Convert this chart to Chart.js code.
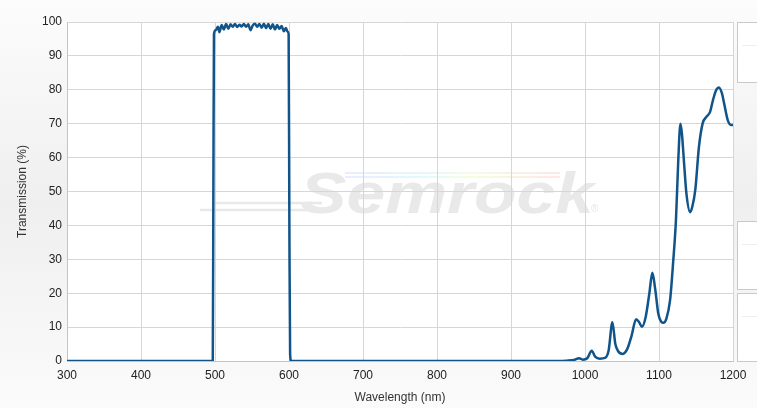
<!DOCTYPE html>
<html>
<head>
<meta charset="utf-8">
<script src="https://cdn.jsdelivr.net/npm/chart.js@4.4.1/dist/chart.umd.min.js"></script>
<style>
  html, body { margin: 0; padding: 0; }
  body {
    width: 757px; height: 408px; overflow: hidden; position: relative;
    background: linear-gradient(to bottom, #fcfcfc 0%, #efefef 50%, #fbfbfb 100%);
    font-family: "Liberation Sans", Arial, sans-serif;
  }
  #wrap { position: absolute; left: 0; top: 0; width: 757px; height: 408px; }
  .side {
    position: absolute; left: 737px; width: 30px;
    background: #fff; border: 1px solid #c9c9c9; border-right: none;
  }
  .side::after {
    content: ""; position: absolute; left: 4px; right: 0; top: 22px;
    border-top: 1px solid #eeeeee;
  }
</style>
</head>
<body>
<div id="wrap"><canvas id="myChart" width="757" height="408"></canvas></div>
<div class="side" style="top:22px;height:59px;"></div>
<div class="side" style="top:221px;height:67px;"></div>
<div class="side" style="top:293px;height:67px;"></div>
<script>
// wavelength (nm) and transmission (%)
const wavelengths = [
    300, 400, 497, 497.8, 498.6,
    501, 504, 506, 509, 512, 515, 518, 521, 524, 527, 530, 533, 536, 539, 542,
    545, 548, 551, 554, 557, 560, 563, 566, 569, 572, 575, 578, 581, 584, 587,
    590, 593, 596, 598, 599.5, 600.5, 601.5, 603,
    700, 800, 900, 965, 975, 985, 992, 997, 1003, 1009, 1014, 1020, 1027,
    1032, 1037, 1041, 1045, 1051, 1057, 1063, 1069, 1073, 1077, 1082, 1087,
    1091, 1095, 1099, 1103, 1106, 1110, 1115, 1119, 1123, 1126, 1129, 1131,
    1134, 1137, 1142, 1145, 1149, 1154, 1159, 1164, 1169, 1173, 1177, 1181,
    1185, 1188, 1193, 1198, 1200
];
const transmission = [
    0, 0, 0, 50, 96.5,
    97.6, 98.6, 97.0, 99.1, 97.8, 99.4, 98.0, 99.3, 98.6, 99.4, 98.5, 99.2, 98.7, 99.4, 98.6,
    99.3, 97.6, 99.0, 99.5, 98.6, 99.4, 98.3, 99.5, 98.2, 99.4, 98.0, 99.3, 97.8, 99.1, 98.0,
    98.8, 97.3, 98.2, 97.1, 96.5, 40, 2, 0,
    0, 0, 0, 0, 0.1, 0.3, 0.8, 0.4, 0.8, 3.0, 1.2, 0.7, 0.9,
    3.2, 11.4, 5.0, 2.8, 2.1, 3.5, 7.5, 12.3, 11.5, 10.1, 13.0, 20.0,
    26.0, 21.0, 14.0, 11.6, 11.3, 12.5, 18.0, 28.8, 42.0, 59.0, 70.0, 67.0,
    58.0, 49.5, 43.9, 45.5, 50.4, 63.2, 70.1, 72.0, 73.5, 77.0, 79.8, 80.7,
    79.0, 76.0, 71.0, 69.6, 69.6
];
const yTicks = [0, 10, 20, 30, 40, 50, 60, 70, 80, 90, 100];
const xTicks = [300, 400, 500, 600, 700, 800, 900, 1000, 1100, 1200];

const points = wavelengths.map((w, i) => ({ x: w, y: transmission[i] }));

// white plot area plus the faint logo underneath the grid
const backdrop = {
    id: 'backdrop',
    beforeDraw(chart) {
        const { ctx, chartArea: a } = chart;
        ctx.save();
        ctx.fillStyle = '#ffffff';
        ctx.fillRect(a.left, a.top, a.right - a.left, a.bottom - a.top);

        // swoosh lines
        ctx.strokeStyle = '#e8e8e8';
        ctx.lineWidth = 2.5;
        ctx.beginPath();
        ctx.moveTo(200, 210); ctx.lineTo(318, 210);
        ctx.moveTo(212, 203); ctx.lineTo(322, 203);
        ctx.stroke();
        const g = ctx.createLinearGradient(340, 0, 560, 0);
        g.addColorStop(0, 'rgba(200,200,255,0.35)');
        g.addColorStop(0.35, 'rgba(190,240,250,0.45)');
        g.addColorStop(0.6, 'rgba(230,250,190,0.45)');
        g.addColorStop(1, 'rgba(255,200,200,0.45)');
        ctx.strokeStyle = g;
        ctx.lineWidth = 2;
        ctx.beginPath();
        ctx.moveTo(345, 173); ctx.lineTo(560, 173);
        ctx.moveTo(345, 177); ctx.lineTo(560, 177);
        ctx.stroke();

        ctx.fillStyle = '#e9e9e9';
        ctx.font = 'italic bold 58px "Liberation Sans"';
        ctx.textBaseline = 'alphabetic';
        ctx.translate(300, 213);
        ctx.scale(1.2, 1);
        ctx.fillText('Semrock', 0, 0);
        ctx.restore();
        ctx.save();
        ctx.fillStyle = '#e6e6e6';
        ctx.font = '10px "Liberation Sans"';
        ctx.fillText('\u00AE', 591, 212);
        ctx.restore();
    }
};

let ctx = document.getElementById('myChart').getContext('2d');
let myChart = new Chart(ctx, {
    type: 'line',
    data: {
        datasets: [{
            label: 'Transmission',
            data: points,
            borderColor: '#10548a',
            borderWidth: 2.5,
            pointRadius: 0,
            fill: false,
            cubicInterpolationMode: 'monotone'
        }]
    },
    options: {
        responsive: false,
        animation: false,
        layout: { padding: { top: 22, right: 24, left: 0, bottom: 0 } },
        plugins: {
            legend: { display: false },
            tooltip: { enabled: false }
        },
        scales: {
            x: {
                type: 'linear',
                min: 300,
                max: 1200,
                afterBuildTicks: (s) => { s.ticks = xTicks.map(v => ({ value: v })); },
                afterFit: (s) => { s.height = 47; },
                grid: { color: '#d6d6d6', drawTicks: false },
                border: { color: '#c4c4c4' },
                ticks: {
                    padding: 7,
                    color: '#222',
                    font: { family: 'Liberation Sans', size: 12 },
                    maxRotation: 0,
                    callback: (v) => String(v)
                },
                title: {
                    display: true,
                    text: 'Wavelength (nm)',
                    color: '#333',
                    font: { family: 'Liberation Sans', size: 12 },
                    padding: { top: 4, bottom: 3 }
                }
            },
            y: {
                min: 0,
                max: 100,
                afterBuildTicks: (s) => { s.ticks = yTicks.map(v => ({ value: v })); },
                afterFit: (s) => { s.width = 67; },
                grid: { color: '#d6d6d6', drawTicks: false },
                border: { color: '#c4c4c4' },
                ticks: {
                    padding: 5,
                    color: '#222',
                    font: { family: 'Liberation Sans', size: 12 },
                    callback: (v) => String(v)
                },
                title: {
                    display: true,
                    text: 'Transmission (%)',
                    color: '#333',
                    font: { family: 'Liberation Sans', size: 12 },
                    padding: { top: 15, bottom: 0 }
                }
            }
        }
    },
    plugins: [backdrop]
});
</script>
</body>
</html>
